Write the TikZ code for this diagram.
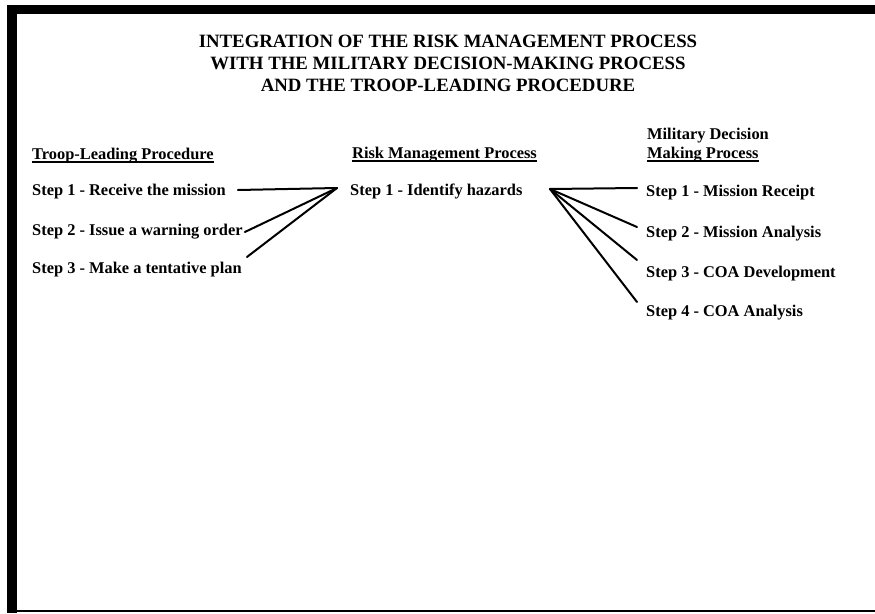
\documentclass[tikz,border=0pt]{standalone}
\usepackage{fontspec}
\setmainfont{Liberation Serif}
\usetikzlibrary{calc}
\begin{document}
\begin{tikzpicture}[x=1pt,y=-1pt,
  txt/.style={font=\fontsize{16.4}{18}\selectfont\bfseries, inner sep=0pt, anchor=base west},
  ttl/.style={font=\fontsize{18.8}{22}\selectfont\bfseries, inner sep=0pt, anchor=base},
  link/.style={line width=2pt, line cap=round},
  ul/.style={line width=1.4pt},
  bar/.style={fill=black, draw=none}]
\useasboundingbox (0,0) rectangle (875,613);
% frame
\fill[bar] (7,5) rectangle (875,14);
\fill[bar] (7,5) rectangle (17,613);
\draw[line width=1.5pt] (17,611) -- (875,611);
% title
\node[ttl] (t1) at (448,47) {INTEGRATION OF THE RISK MANAGEMENT PROCESS};
\node[ttl] (t2) at (448,69) {WITH THE MILITARY DECISION-MAKING PROCESS};
\node[ttl] (t3) at (448,91) {AND THE TROOP-LEADING PROCEDURE};
% left column
\node[txt] (tlp) at (32,159) {Troop-Leading Procedure};
\node[txt] (l1) at (32,195) {Step 1 - Receive the mission};
\node[txt] (l2) at (32,235) {Step 2 - Issue a warning order};
\node[txt] (l3) at (32,273) {Step 3 - Make a tentative plan};
% middle column
\node[txt] (rmp) at (352,158) {Risk Management Process};
\node[txt] (m1) at (350,195) {Step 1 - Identify hazards};
% right column
\node[txt] (mdm1) at (647,139) {Military Decision};
\node[txt] (mdm2) at (647,158) {Making Process};
\node[txt] (r1) at (646,196) {Step 1 - Mission Receipt};
\node[txt] (r2) at (646,237) {Step 2 - Mission Analysis};
\node[txt] (r3) at (646,277) {Step 3 - COA Development};
\node[txt] (r4) at (646,316) {Step 4 - COA Analysis};
% underlines
\draw[ul] ($(tlp.base west)+(0,3)$) -- ($(tlp.base east)+(0,3)$);
\draw[ul] ($(rmp.base west)+(0,3)$) -- ($(rmp.base east)+(0,3)$);
\draw[ul] ($(mdm2.base west)+(0,3)$) -- ($(mdm2.base east)+(0,3)$);
% hubs
\coordinate (lh) at (337,188);
\coordinate (rh) at (550,189);
\coordinate (e1) at ($(l1.base east)+(12,-5)$);
\coordinate (e2) at ($(l2.base east)+(2,-3)$);
\coordinate (e3) at ($(l3.base east)+(5,-16)$);
\draw[link] (e1) -- (lh);
\draw[link] (e2) -- (lh);
\draw[link] (e3) -- (lh);
\coordinate (f1) at ($(r1.base west)+(-9,-8)$);
\coordinate (f2) at ($(r2.base west)+(-9,-10)$);
\coordinate (f3) at ($(r3.base west)+(-9,-17)$);
\coordinate (f4) at ($(r4.base west)+(-9,-14)$);
\draw[link] (rh) -- (f1);
\draw[link] (rh) -- (f2);
\draw[link] (rh) -- (f3);
\draw[link] (rh) -- (f4);
\end{tikzpicture}
\end{document}
